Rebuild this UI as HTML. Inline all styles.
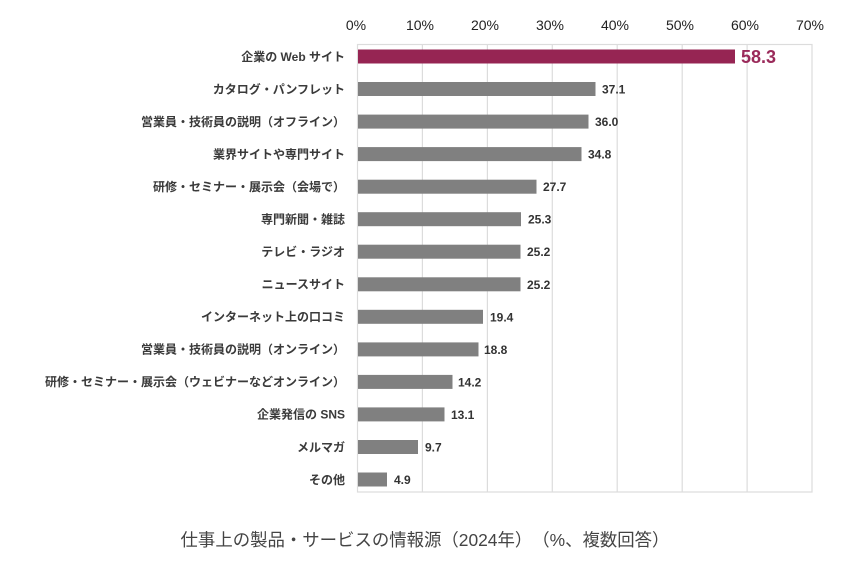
<!DOCTYPE html>
<html><head><meta charset="utf-8">
<style>
html,body{margin:0;padding:0;background:#fff;}
svg{display:block;text-spacing-trim:space-all;}
text{text-spacing-trim:space-all;}
.lab{font-family:"Liberation Sans","Noto Sans CJK JP",sans-serif;font-size:12px;font-weight:bold;fill:#3a3a3a;text-anchor:end;}
.tick{font-family:"Liberation Sans","Noto Sans CJK JP",sans-serif;font-size:14px;fill:#222;text-anchor:middle;}
.val{font-family:"Liberation Sans","Noto Sans CJK JP",sans-serif;font-size:12px;font-weight:bold;fill:#333;}
.cap{font-family:"Liberation Sans","Noto Sans CJK JP",sans-serif;font-size:17.4px;fill:#444;text-anchor:middle;}
</style></head>
<body>
<svg width="858" height="567" viewBox="0 0 858 567" xmlns="http://www.w3.org/2000/svg">
<rect width="858" height="567" fill="#fff"/>
<!-- grid -->
<g stroke="#dcdcdc" stroke-width="1.2" fill="none">
<rect x="357.5" y="44.5" width="454.5" height="447.5"/>
<line x1="422.4" y1="44" x2="422.4" y2="492"/>
<line x1="487.4" y1="44" x2="487.4" y2="492"/>
<line x1="552.3" y1="44" x2="552.3" y2="492"/>
<line x1="617.2" y1="44" x2="617.2" y2="492"/>
<line x1="682.2" y1="44" x2="682.2" y2="492"/>
<line x1="747.1" y1="44" x2="747.1" y2="492"/>
</g>
<!-- ticks -->
<text class="tick" x="356" y="30">0%</text>
<text class="tick" x="420" y="30">10%</text>
<text class="tick" x="485" y="30">20%</text>
<text class="tick" x="550" y="30">30%</text>
<text class="tick" x="615" y="30">40%</text>
<text class="tick" x="680" y="30">50%</text>
<text class="tick" x="745" y="30">60%</text>
<text class="tick" x="810" y="30">70%</text>
<!-- bars -->
<rect x="358" y="49.5" width="377" height="14" fill="#962553"/>
<g fill="#808080">
<rect x="358" y="82.0" width="237.5" height="14"/>
<rect x="358" y="114.6" width="230.5" height="14"/>
<rect x="358" y="147.1" width="223.5" height="14"/>
<rect x="358" y="179.7" width="178.5" height="14"/>
<rect x="358" y="212.2" width="163" height="14"/>
<rect x="358" y="244.7" width="162.5" height="14"/>
<rect x="358" y="277.3" width="162.5" height="14"/>
<rect x="358" y="309.8" width="125" height="14"/>
<rect x="358" y="342.4" width="120.5" height="14"/>
<rect x="358" y="374.9" width="94.5" height="14"/>
<rect x="358" y="407.4" width="86.5" height="14"/>
<rect x="358" y="440.0" width="60" height="14"/>
<rect x="358" y="472.5" width="29" height="14"/>
</g>
<!-- values -->
<text x="741" y="63" font-family="Liberation Sans, sans-serif" font-size="18" font-weight="bold" fill="#9a2a5a">58.3</text>
<text class="val" x="602" y="93.5">37.1</text>
<text class="val" x="595" y="126">36.0</text>
<text class="val" x="588" y="158.6">34.8</text>
<text class="val" x="543" y="191.1">27.7</text>
<text class="val" x="528" y="223.7">25.3</text>
<text class="val" x="527" y="256.2">25.2</text>
<text class="val" x="527" y="288.8">25.2</text>
<text class="val" x="490" y="321.3">19.4</text>
<text class="val" x="484" y="353.8">18.8</text>
<text class="val" x="458" y="386.4">14.2</text>
<text class="val" x="451" y="418.9">13.1</text>
<text class="val" x="425" y="451.5">9.7</text>
<text class="val" x="394" y="484">4.9</text>
<!-- labels -->
<text class="lab" x="345" y="60.8">企業の Web サイト</text>
<text class="lab" x="345" y="93.3">カタログ・パンフレット</text>
<text class="lab" x="345" y="125.9">営業員・技術員の説明（オフライン）</text>
<text class="lab" x="345" y="158.4">業界サイトや専門サイト</text>
<text class="lab" x="345" y="191">研修・セミナー・展示会（会場で）</text>
<text class="lab" x="345" y="223.5">専門新聞・雑誌</text>
<text class="lab" x="345" y="256">テレビ・ラジオ</text>
<text class="lab" x="345" y="288.6">ニュースサイト</text>
<text class="lab" x="345" y="321.1">インターネット上の口コミ</text>
<text class="lab" x="345" y="353.7">営業員・技術員の説明（オンライン）</text>
<text class="lab" x="345" y="386.2">研修・セミナー・展示会（ウェビナーなどオンライン）</text>
<text class="lab" x="345" y="418.7">企業発信の SNS</text>
<text class="lab" x="345" y="451.3">メルマガ</text>
<text class="lab" x="345" y="483.8">その他</text>
<!-- caption -->
<text class="cap" x="425" y="546">仕事上の製品・サービスの情報源（2024年）（%、複数回答）</text>
</svg>
</body></html>
